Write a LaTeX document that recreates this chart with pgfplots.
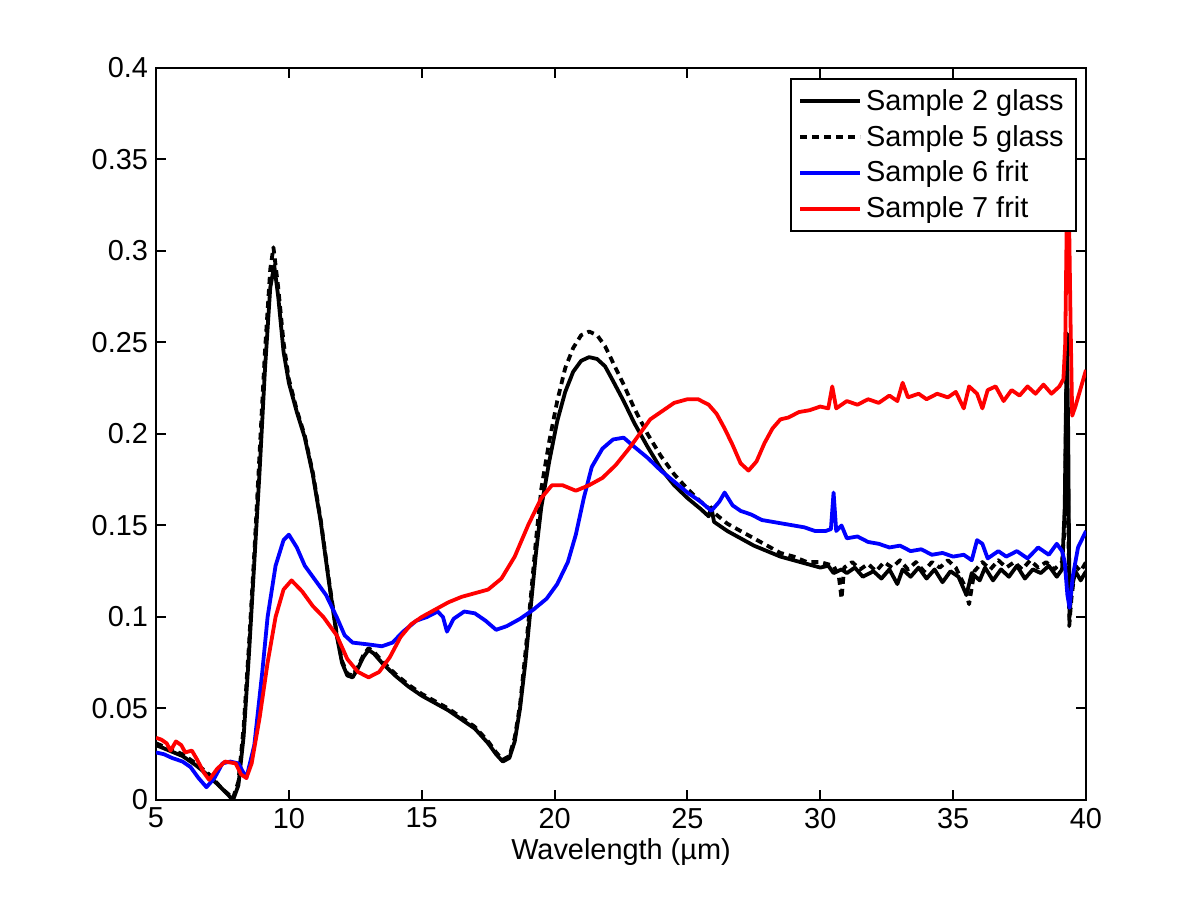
\documentclass[border=0pt]{standalone}
\usepackage{fontspec}
\setmainfont{Liberation Sans}
\usepackage{pgfplots}
\pgfplotsset{compat=1.18}
\begin{document}
\begin{tikzpicture}[x=1bp,y=1bp]
\begin{axis}[
  scale only axis,
  width=465bp, height=366bp,
  xmin=5, xmax=40, ymin=0, ymax=0.4,
  xtick={5,10,...,40},
  ytick={0,0.05,...,0.4},
  yticklabels={0,0.05,0.1,0.15,0.2,0.25,0.3,0.35,0.4},
  scaled y ticks=false,
  /pgf/number format/assume math mode=true,
  tick align=inside,
  major tick length=5bp,
  axis line style={line width=1bp},
  every tick/.style={line width=1bp,black},
  tick label style={font=\fontsize{14.5}{16}\selectfont},
  label style={font=\fontsize{14.5}{16}\selectfont},
  xlabel={Wavelength (µm)},
  xlabel style={yshift=2bp},
  yticklabel style={xshift=-0.5bp},
  xticklabel style={yshift=-0.5bp},
  legend style={at={(0.990,0.986)}, anchor=north east, draw=black, line width=1bp,
    font=\fontsize{14.5}{16}\selectfont, row sep=2bp, inner xsep=4bp, inner ysep=3bp, cells={anchor=west},
    legend image code/.code={\draw[#1,line width=1.8bp] (0bp,0bp) -- (30bp,0bp);}},
  legend cell align=left,
  every axis plot/.append style={line width=1.9bp, line join=round},
  clip=true,
]
\addplot[black] coordinates {
(5,0.030)(5.5,0.027)(6,0.024)(6.5,0.019)(7,0.013)(7.5,0.006)(7.9,0.0)(8.1,0.008)(8.3,0.035)(8.5,0.08)(8.7,0.13)(8.9,0.18)(9.1,0.235)(9.3,0.28)(9.45,0.292)(9.6,0.275)(9.8,0.245)(10.0,0.228)(10.3,0.212)(10.6,0.198)(10.9,0.178)(11.2,0.152)(11.5,0.12)(11.8,0.09)(12.0,0.075)(12.2,0.068)(12.4,0.067)(12.6,0.072)(12.8,0.078)(13.0,0.082)(13.2,0.080)(13.5,0.075)(14,0.068)(14.5,0.062)(15,0.057)(15.5,0.053)(16,0.049)(16.5,0.044)(17,0.039)(17.5,0.031)(17.8,0.025)(18.05,0.021)(18.3,0.023)(18.5,0.032)(18.7,0.05)(18.9,0.075)(19.1,0.105)(19.3,0.135)(19.5,0.16)(19.8,0.185)(20.1,0.207)(20.4,0.223)(20.7,0.234)(21.0,0.240)(21.3,0.242)(21.6,0.241)(21.9,0.237)(22.2,0.229)(22.6,0.218)(23.0,0.206)(23.5,0.193)(24,0.181)(24.5,0.172)(25,0.165)(25.5,0.159)(25.8,0.155)(25.9,0.16)(26,0.152)(26.5,0.147)(27,0.143)(27.5,0.139)(28,0.136)(28.5,0.133)(29,0.131)(29.5,0.129)(30,0.127)(30.3,0.128)(30.5,0.124)(30.8,0.126)(31,0.124)(31.3,0.127)(31.6,0.122)(32,0.125)(32.3,0.121)(32.6,0.126)(32.9,0.118)(33.1,0.126)(33.4,0.122)(33.7,0.127)(34,0.121)(34.3,0.126)(34.6,0.119)(34.9,0.125)(35.2,0.122)(35.5,0.112)(35.7,0.124)(36,0.12)(36.2,0.127)(36.5,0.12)(36.8,0.126)(37.1,0.122)(37.4,0.128)(37.7,0.121)(38,0.126)(38.3,0.124)(38.6,0.128)(38.9,0.122)(39.1,0.126)(39.2,0.16)(39.28,0.255)(39.33,0.2)(39.38,0.1)(39.45,0.115)(39.6,0.125)(39.8,0.12)(40,0.125)
};
\addlegendentry{Sample 2 glass}
\addplot[black, dash pattern=on 3.5bp off 2.5bp] coordinates {
(5,0.031)(5.5,0.028)(6,0.025)(6.5,0.020)(7,0.014)(7.5,0.006)(7.9,0.001)(8.1,0.01)(8.3,0.04)(8.5,0.085)(8.7,0.135)(8.9,0.19)(9.1,0.245)(9.3,0.29)(9.42,0.302)(9.6,0.28)(9.8,0.25)(10.0,0.23)(10.3,0.213)(10.6,0.199)(10.9,0.179)(11.2,0.153)(11.5,0.121)(11.8,0.091)(12.0,0.076)(12.2,0.069)(12.4,0.068)(12.6,0.073)(12.8,0.079)(13.0,0.083)(13.2,0.081)(13.5,0.076)(14,0.069)(14.5,0.063)(15,0.058)(15.5,0.054)(16,0.05)(16.5,0.045)(17,0.04)(17.5,0.032)(17.8,0.026)(18.05,0.022)(18.3,0.024)(18.5,0.034)(18.7,0.052)(18.9,0.08)(19.1,0.11)(19.3,0.142)(19.5,0.17)(19.8,0.196)(20.1,0.218)(20.4,0.236)(20.7,0.247)(21.0,0.254)(21.3,0.256)(21.6,0.254)(21.9,0.248)(22.2,0.239)(22.6,0.227)(23,0.214)(23.5,0.2)(24,0.188)(24.5,0.178)(25,0.17)(25.5,0.163)(26,0.157)(26.5,0.151)(27,0.147)(27.5,0.143)(28,0.139)(28.5,0.135)(29,0.133)(29.5,0.13)(30,0.13)(30.5,0.128)(30.7,0.122)(30.8,0.11)(30.9,0.127)(31.2,0.13)(31.5,0.126)(31.8,0.129)(32.1,0.125)(32.4,0.13)(32.7,0.127)(33,0.131)(33.3,0.126)(33.6,0.13)(33.9,0.125)(34.2,0.13)(34.5,0.127)(34.8,0.131)(35.1,0.127)(35.4,0.118)(35.6,0.107)(35.8,0.125)(36.1,0.13)(36.4,0.126)(36.7,0.131)(37,0.127)(37.3,0.13)(37.6,0.126)(37.9,0.131)(38.2,0.127)(38.5,0.13)(38.8,0.126)(39.1,0.13)(39.2,0.15)(39.27,0.24)(39.32,0.18)(39.37,0.095)(39.45,0.11)(39.6,0.128)(39.8,0.125)(40,0.13)
};
\addlegendentry{Sample 5 glass}
\addplot[blue] coordinates {
(5,0.026)(5.3,0.025)(5.6,0.023)(6,0.021)(6.3,0.018)(6.6,0.012)(6.9,0.007)(7.2,0.012)(7.5,0.02)(7.8,0.021)(8.1,0.02)(8.4,0.012)(8.7,0.03)(9.0,0.07)(9.2,0.1)(9.5,0.128)(9.8,0.142)(10.0,0.145)(10.3,0.138)(10.6,0.128)(11,0.12)(11.4,0.112)(11.8,0.1)(12.1,0.09)(12.4,0.086)(13,0.085)(13.5,0.084)(13.9,0.086)(14.3,0.092)(14.8,0.098)(15.2,0.1)(15.6,0.103)(15.8,0.1)(15.95,0.092)(16.2,0.099)(16.6,0.103)(17.0,0.102)(17.4,0.098)(17.8,0.093)(18.2,0.095)(18.7,0.099)(19.2,0.104)(19.7,0.11)(20.1,0.118)(20.5,0.13)(20.8,0.145)(21.1,0.165)(21.4,0.182)(21.8,0.192)(22.2,0.197)(22.6,0.198)(23,0.193)(23.5,0.187)(24,0.18)(24.5,0.174)(25,0.168)(25.5,0.163)(25.9,0.158)(26.2,0.163)(26.4,0.168)(26.7,0.161)(27,0.158)(27.4,0.156)(27.8,0.153)(28.2,0.152)(28.6,0.151)(29,0.15)(29.4,0.149)(29.8,0.147)(30.2,0.147)(30.4,0.148)(30.5,0.168)(30.6,0.147)(30.8,0.15)(31,0.143)(31.4,0.144)(31.8,0.141)(32.2,0.14)(32.6,0.138)(33,0.139)(33.4,0.136)(33.8,0.137)(34.2,0.134)(34.6,0.135)(35,0.133)(35.4,0.134)(35.7,0.131)(35.9,0.142)(36.1,0.14)(36.3,0.132)(36.7,0.136)(37,0.133)(37.4,0.136)(37.8,0.132)(38.2,0.138)(38.6,0.134)(38.9,0.14)(39.1,0.136)(39.2,0.13)(39.3,0.112)(39.38,0.105)(39.5,0.122)(39.7,0.138)(40,0.147)
};
\addlegendentry{Sample 6 frit}
\addplot[red] coordinates {
(5,0.034)(5.2,0.033)(5.4,0.031)(5.55,0.027)(5.75,0.032)(5.95,0.03)(6.1,0.026)(6.35,0.027)(6.55,0.022)(6.8,0.015)(7.0,0.011)(7.3,0.017)(7.6,0.021)(8.0,0.02)(8.2,0.014)(8.4,0.012)(8.6,0.02)(8.9,0.045)(9.2,0.075)(9.5,0.1)(9.8,0.115)(10.1,0.12)(10.5,0.114)(10.9,0.106)(11.3,0.1)(11.8,0.09)(12.2,0.077)(12.6,0.07)(13.0,0.067)(13.4,0.07)(13.8,0.078)(14.2,0.089)(14.6,0.096)(15,0.1)(15.5,0.104)(16,0.108)(16.5,0.111)(17,0.113)(17.5,0.115)(18,0.121)(18.5,0.133)(19,0.15)(19.5,0.165)(19.9,0.172)(20.3,0.172)(20.8,0.169)(21.3,0.172)(21.8,0.176)(22.3,0.183)(22.8,0.192)(23.2,0.2)(23.6,0.208)(24,0.212)(24.5,0.217)(25,0.219)(25.4,0.219)(25.8,0.216)(26.1,0.211)(26.4,0.203)(26.7,0.194)(27,0.184)(27.3,0.18)(27.6,0.185)(27.9,0.195)(28.2,0.203)(28.5,0.208)(28.8,0.209)(29.2,0.212)(29.6,0.213)(30,0.215)(30.3,0.214)(30.45,0.226)(30.6,0.214)(31,0.218)(31.4,0.216)(31.8,0.219)(32.2,0.217)(32.6,0.221)(32.9,0.218)(33.1,0.228)(33.3,0.22)(33.7,0.222)(34,0.219)(34.4,0.222)(34.8,0.22)(35.1,0.223)(35.4,0.214)(35.6,0.226)(35.9,0.222)(36.1,0.214)(36.3,0.224)(36.6,0.226)(36.9,0.218)(37.2,0.224)(37.5,0.221)(37.8,0.226)(38.1,0.222)(38.4,0.227)(38.7,0.222)(39,0.226)(39.15,0.23)(39.22,0.25)(39.27,0.31)(39.35,0.33)(39.42,0.26)(39.48,0.21)(39.6,0.215)(39.8,0.225)(40,0.235)
};
\addlegendentry{Sample 7 frit}
\end{axis}
\pgfresetboundingbox
\path (current axis.south west) ++(-78bp,-50bp) rectangle ++(600bp,450bp);
\end{tikzpicture}
\end{document}
